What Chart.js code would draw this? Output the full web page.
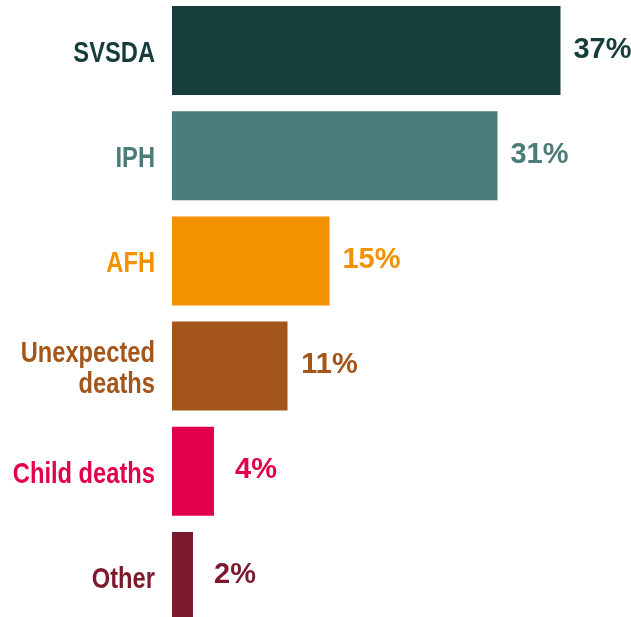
<!DOCTYPE html>
<html>
<head>
<meta charset="utf-8">
<script src="https://cdn.jsdelivr.net/npm/chart.js@4.4.0/dist/chart.umd.min.js"></script>
<style>
  html, body { margin: 0; padding: 0; background: #ffffff; overflow: hidden; width: 631px; height: 617px; }
  #wrap { position: absolute; left: 0; top: -2px; width: 631px; height: 631px; }
</style>
</head>
<body>
<div id="wrap"><canvas id="c" width="631" height="631"></canvas></div>
<script>
const labels = ["SVSDA", "IPH", "AFH", ["Unexpected", "deaths"], "Child deaths", "Other"];
const values = [37, 31, 15, 11, 4, 2];
const valueLabels = ["37%", "31%", "15%", "11%", "4%", "2%"];
const colors = ["#163c3c", "#4a7d7a", "#f39200", "#a4561a", "#e2004b", "#7b1a2c"];

const FONT = "'Liberation Sans', Arial, sans-serif";
const CONDENSE = 0.79;

const valueLabelPlugin = {
  id: 'valueLabels',
  afterDatasetsDraw(chart) {
    const ctx = chart.ctx;
    const meta = chart.getDatasetMeta(0);
    ctx.save();
    ctx.font = "bold 29px " + FONT;
    ctx.textAlign = 'center';
    ctx.textBaseline = 'middle';
    meta.data.forEach((bar, i) => {
      ctx.fillStyle = colors[i];
      ctx.fillText(valueLabels[i], bar.x + 42, bar.y - 1);
    });
    ctx.restore();
  }
};

new Chart(document.getElementById('c'), {
  type: 'bar',
  data: {
    labels: labels,
    datasets: [{
      data: values,
      backgroundColor: colors,
      borderWidth: 0,
      categoryPercentage: 1,
      barPercentage: 89 / 105.2
    }]
  },
  options: {
    indexAxis: 'y',
    responsive: false,
    animation: false,
    devicePixelRatio: 1,
    layout: { padding: { left: 0, right: 39, top: 0, bottom: 0 } },
    plugins: { legend: { display: false }, tooltip: { enabled: false } },
    scales: {
      x: {
        min: 0, max: 40,
        display: false,
        grid: { display: false }
      },
      y: {
        grid: { display: false, drawTicks: false },
        border: { display: false },
        afterFit(axis) {
          axis.width = 172;
          axis.paddingTop = 0;
          axis.paddingBottom = 0;
          if (!axis._condensed) {
            const orig = axis.drawLabels.bind(axis);
            axis._computeLabelArea = () => undefined;
            axis.drawLabels = function (area) {
              const ctx = this.ctx;
              const ax = this.right - 17;
              ctx.save();
              ctx.translate(ax, 3);
              ctx.scale(CONDENSE, 1);
              ctx.translate(-ax, 0);
              orig(area);
              ctx.restore();
            };
            axis._condensed = true;
          }
        },
        ticks: {
          padding: 17,
          color: (ctx) => colors[ctx.index],
          font: { family: FONT, size: 30, weight: 'bold', lineHeight: 1.03 }
        }
      }
    }
  },
  plugins: [valueLabelPlugin]
});
</script>
</body>
</html>
